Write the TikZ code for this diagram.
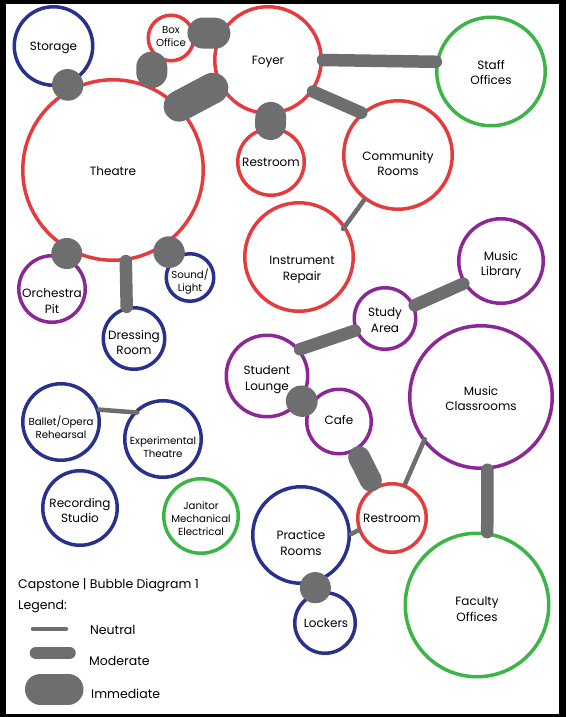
\documentclass[tikz,border=0pt]{standalone}
\usepackage{fontspec}
\setmainfont{Poppins}
\usetikzlibrary{positioning}
\definecolor{bubred}{RGB}{228,60,62}
\definecolor{bubblue}{RGB}{40,50,140}
\definecolor{bubgreen}{RGB}{60,180,72}
\definecolor{bubpurple}{RGB}{140,40,150}
\definecolor{linkgray}{RGB}{110,110,112}

\begin{document}
\begin{tikzpicture}[x=1pt,y=-1pt,
  room/.style={circle,draw,line width=3.5pt,inner sep=0pt},
  every label/.style={align=center,inner sep=0pt,font=\fontsize{12}{15.5}\selectfont},
  small/.style={font=\fontsize{10.2}{13}\selectfont},
  redroom/.style={room,draw=bubred},
  blueroom/.style={room,draw=bubblue},
  greenroom/.style={room,draw=bubgreen},
  purpleroom/.style={room,draw=bubpurple},
  neutral/.style={draw=linkgray,line width=4.5pt,line cap=round},
  moderate/.style={draw=linkgray,line width=12.5pt,line cap=round},
  strong/.style={draw=linkgray,line width=22pt,line cap=round},
  immediate/.style={draw=linkgray,line width=31pt,line cap=round},
  legtext/.style={anchor=west,inner sep=0pt,font=\fontsize{12.5}{15}\selectfont}]
% frame
\fill[black] (0,0) rectangle (566,717);
\fill[white] (6,4) rectangle (559,714);
\useasboundingbox (0,0) rectangle (566,717);
% performance wing
\node[blueroom,minimum size=78.5pt,label={[yshift=-2pt]center:Storage}] (storage) at (53.5,46) {};
\node[redroom,minimum size=180.5pt,label={[yshift=-1pt]center:Theatre}] (theatre) at (113,170) {};
\node[redroom,minimum size=45.5pt,label={[small,yshift=2pt]center:Box\\Office}] (boxoffice) at (171,38) {};
\node[redroom,minimum size=106.5pt,label={[yshift=-2pt]center:Foyer}] (foyer) at (268,60) {};
\node[redroom,minimum size=66.5pt,label={center:Restroom}] (restroomA) at (271,162) {};
\node[redroom,minimum size=108.5pt,label={[yshift=-8.5pt]center:Community\\Rooms}] (community) at (398,155) {};
\node[greenroom,minimum size=108.5pt,label={[yshift=-1pt]center:Staff\\Offices}] (staff) at (491,71.5) {};
\node[redroom,minimum size=108.5pt,label={[yshift=-13pt,xshift=3pt]center:Instrument\\Repair}] (instrument) at (299,257) {};
\node[purpleroom,minimum size=84.5pt,label={[yshift=-4pt]center:Music\\Library}] (library) at (501,261) {};
\node[purpleroom,minimum size=66.5pt,label={[yshift=-12pt]center:Orchestra\\Pit}] (orchestra) at (52,289) {};
\node[blueroom,minimum size=47.5pt,label={[small,yshift=-4pt]center:Sound/\\Light}] (sound) at (190,277.5) {};
\node[blueroom,minimum size=61.5pt,label={[yshift=-4pt]center:Dressing\\Room}] (dressing) at (134,338.5) {};
% student side
\node[purpleroom,minimum size=61.5pt,label={[yshift=-1.5pt]center:Study\\Area}] (study) at (385,318.5) {};
\node[purpleroom,minimum size=81.5pt,label={[yshift=-3.5pt]center:Student\\Lounge}] (lounge) at (267,376) {};
\node[purpleroom,minimum size=64.5pt,label={[yshift=2pt]center:Cafe}] (cafe) at (339,421.5) {};
\node[purpleroom,minimum size=142.5pt,label={[yshift=-1.5pt]center:Music\\Classrooms}] (classrooms) at (481,397) {};
\node[redroom,minimum size=68.5pt,label={center:Restroom}] (restroomB) at (392,518) {};
\node[blueroom,minimum size=96.5pt,label={[yshift=-8pt]center:Practice\\Rooms}] (practice) at (301,535) {};
\node[blueroom,minimum size=60.5pt,label={[xshift=1pt]center:Lockers}] (lockers) at (325,623) {};
\node[greenroom,minimum size=143.5pt,label={[yshift=-4pt]center:Faculty\\Offices}] (faculty) at (477,605) {};
% loose rooms
\node[blueroom,minimum size=76.5pt,label={[small,yshift=-5pt]center:Ballet/Opera\\Rehearsal}] (ballet) at (61,422) {};
\node[blueroom,minimum size=76.5pt,label={[small,yshift=-8pt]center:Experimental\\Theatre}] (experimental) at (163,439) {};
\node[blueroom,minimum size=74.5pt,label={[yshift=-2.5pt]center:Recording\\Studio}] (recording) at (80,508) {};
\node[greenroom,minimum size=74.5pt,label={[small,yshift=-3pt]center:Janitor\\Mechanical\\Electrical}] (janitor) at (201,516) {};
% adjacencies
\draw[immediate,shorten >=4pt] (storage.-70) -- (theatre.118);
\draw[immediate,shorten <=14pt,shorten >=14pt] (boxoffice.-142) -- (theatre.65);
\draw[immediate,shorten <=8pt,shorten >=5pt] (boxoffice.12) -- (foyer.151);
\draw[immediate,shorten >=7pt] (theatre.44) -- (foyer.-153);
\draw[immediate,shorten <=2.5pt,shorten >=2.5pt] (foyer.-87) -- (restroomA.91);
\draw[moderate] (foyer.0) -- (staff.170);
\draw[moderate] (foyer.-35) -- (community.131);
\draw[neutral,shorten >=-4pt] (community.-127) -- (instrument.34);
\draw[immediate,shorten <=3.5pt,shorten >=3.5pt] (theatre.-119) -- (orchestra.68);
\draw[immediate,shorten <=7pt,shorten >=7pt] (theatre.-56) -- (sound.130);
\draw[moderate] (theatre.-82) -- (dressing.103);
\draw[neutral,shorten >=-4pt] (ballet.18) -- (experimental.138);
\draw[moderate] (study.24) -- (library.-149);
\draw[moderate] (study.-158) -- (lounge.39);
\draw[immediate,shorten >=8pt] (lounge.-36) -- (cafe.151);
\draw[strong,shorten <=7pt,shorten >=7pt] (cafe.-60) -- (restroomB.120);
\draw[neutral,shorten >=-3pt] (restroomB.69) -- (classrooms.-142);
\draw[neutral] (restroomB.-160) -- (practice.1);
\draw[moderate] (classrooms.-85) -- (faculty.82);
\draw[immediate,shorten <=4.5pt,shorten >=4.5pt] (practice.-75) -- (lockers.105);
% title and legend
\node[legtext] (title) at (18,585) {Capstone | Bubble Diagram 1};
\node[legtext] (legend) at (18,607) {Legend:};
\coordinate (neuA) at (33,629);   \coordinate (neuB) at (66,629);
\coordinate (modA) at (36,653);   \coordinate (modB) at (69.5,653);
\coordinate (immA) at (40.5,689); \coordinate (immB) at (68,689);
\draw[neutral] (neuA) -- (neuB);
\draw[moderate] (modA) -- (modB);
\draw[immediate] (immA) -- (immB);
\node[legtext] (neulabel) at (90,630) {Neutral};
\node[legtext] (modlabel) at (89,661) {Moderate};
\node[legtext] (immlabel) at (91,694) {Immediate};
\end{tikzpicture}
\end{document}
